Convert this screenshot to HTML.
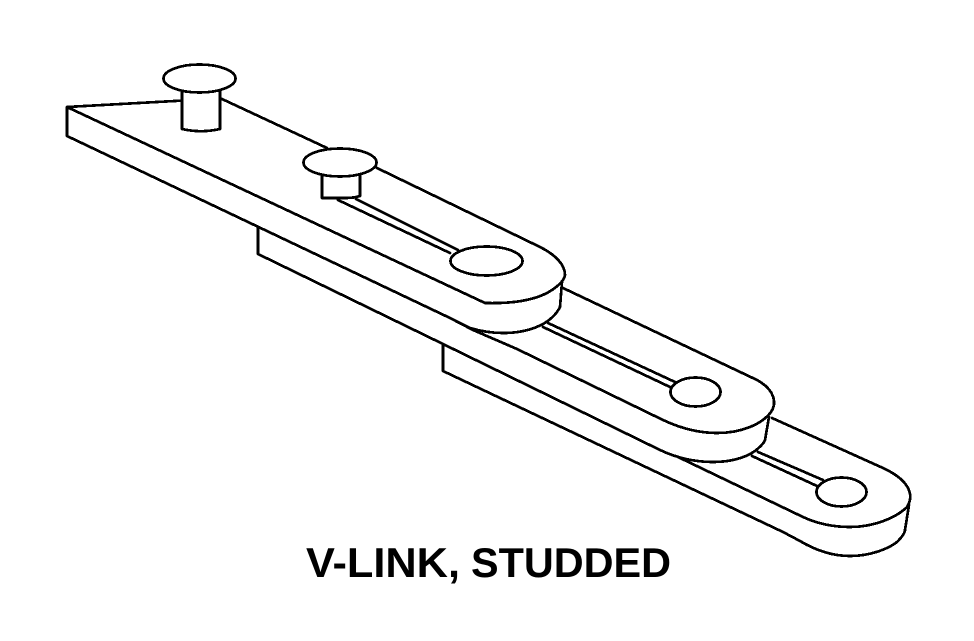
<!DOCTYPE html>
<html>
<head>
<meta charset="utf-8">
<style>
html,body{margin:0;padding:0;background:#fff;width:974px;height:641px;overflow:hidden}
svg{display:block}
</style>
</head>
<body>
<svg width="974" height="641" viewBox="0 0 974 641" xmlns="http://www.w3.org/2000/svg">
<g fill="none" stroke="#000" stroke-width="2.7" stroke-linejoin="round" stroke-linecap="round" shape-rendering="crispEdges">
<!-- left end plate and link 2 top outline -->
<path d="M180 100.7 L67 107 L67 136 L450 318 L473 330 L517 349 L663 420 C680 428 697 433 717 433 C742 433 762 424 771 412 C777 403 775 390 757 380 L563 288"/>
<path d="M67 107 L485 303"/>
<path d="M222 99 L327 148"/>
<!-- link 1 top outline -->
<path d="M377 168 L540 247 C556 255 565 265 565 275 C564 281 558 286 552 290 C540 298 520 304 485 303"/>
<!-- link 1 side -->
<path d="M562 282 L560 307 C556 315 550 320 543 324 C530 331 515 333 503 333 C490 333 480 331 470 328 L450 318"/>
<!-- slot 1 -->
<path d="M356 199 L458 250"/>
<path d="M338 200 L450 253"/>
<!-- slot 2 -->
<path d="M548 323 L675 382"/>
<path d="M543 327 L670 387"/>
<!-- slot 3 -->
<path d="M758 452 L823 480"/>
<path d="M752 456 L817 486"/>
<!-- block 1 and link 2 underside -->
<path d="M258 228 L258 254 L443 344 L660 450 C677 458 695 462 713 462 C730 462 745 458 755 451 C760 447 764 443 765 440 L769 417"/>
<!-- block 2 and link 3 -->
<path d="M443 345 L443 371 L783 532 L800 541 C815 550 832 556 850 556 C870 556 888 549 897 542 C902 537 905 533 905 530 L909 505"/>
<path d="M678 457 L803 517 C818 524 834 527 850 527 C875 527 897 517 907 507 C914 496 911 481 883 468 L772 418"/>
<!-- studs -->
<path d="M182 92 L182 129 C195 132 207 132 220 129 L220 90"/>
<path d="M322 176 L322 198 L345 198 C352 198 357 197 360 196 L360 176"/>
<ellipse cx="199.5" cy="78.5" rx="36" ry="14" fill="#fff"/>
<ellipse cx="340" cy="162.5" rx="36.5" ry="14" fill="#fff"/>
<!-- holes -->
<ellipse cx="486.5" cy="261" rx="36" ry="14.5" fill="#fff"/>
<ellipse cx="695.5" cy="392" rx="25" ry="14.5" fill="#fff"/>
<ellipse cx="841.5" cy="492" rx="25" ry="14.5" fill="#fff"/>
</g>
<g font-family="'Liberation Sans',Arial,sans-serif" font-weight="700" font-size="42" fill="#000">
<text x="306" y="577" textLength="154" lengthAdjust="spacingAndGlyphs">V-LINK,</text>
<text x="471" y="577" textLength="200" lengthAdjust="spacingAndGlyphs">STUDDED</text>
</g>
</svg>
</body>
</html>
